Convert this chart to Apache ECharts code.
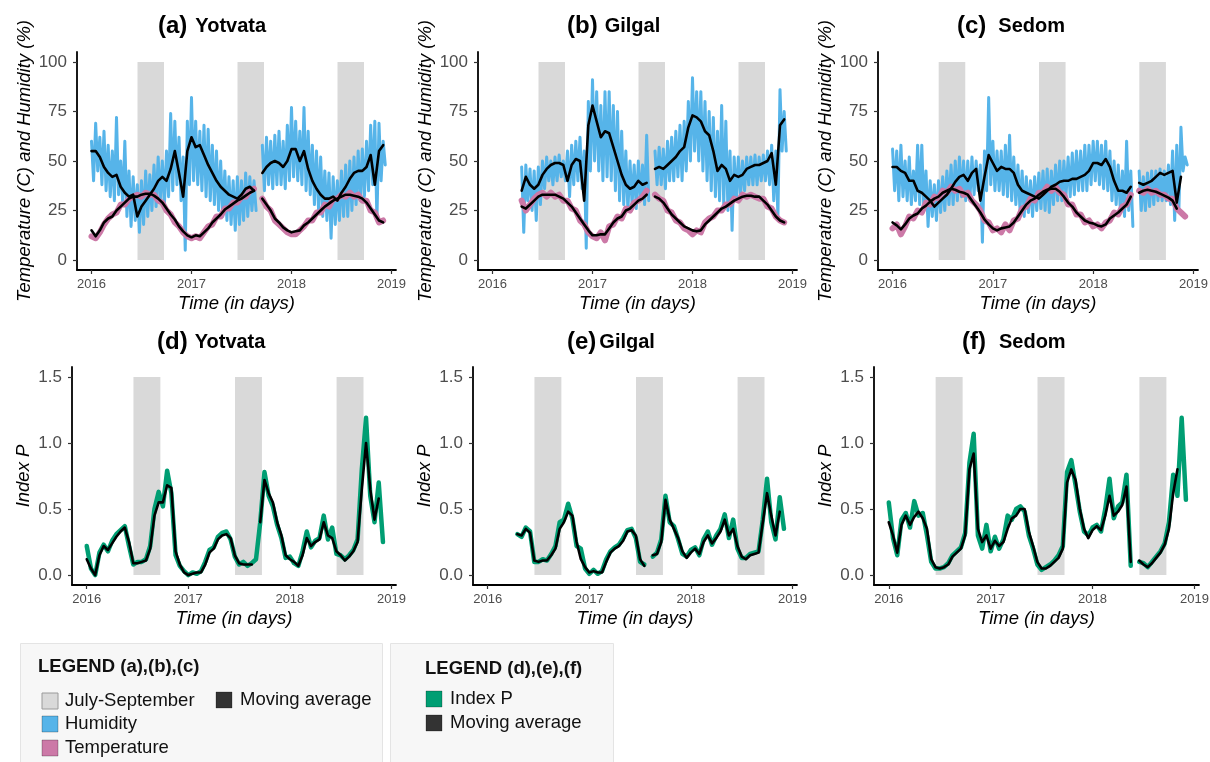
<!DOCTYPE html>
<html><head><meta charset="utf-8">
<script src="https://cdn.jsdelivr.net/npm/echarts@6/dist/echarts.min.js"></script>
<style>html,body{margin:0;padding:0;background:#fff}#c{width:1210px;height:762px}</style>
</head><body><div id="c"></div>
<script>
// ---------- axis / time data ----------
const yearTicks = [2016, 2017, 2018, 2019];
const tempHumTicks = [0, 25, 50, 75, 100];
const indexTicks = [0, 0.5, 1.0, 1.5];
const X_MIN = 2015.855, X_MAX = 2019.045;
const T0 = 2016;              // first sample (decimal year)
const STEP = 1 / 24;          // half-month step for smooth series
const RAW_STEP = 1 / 48;      // step for noisy humidity series
const GILGAL_START = 2016 + 7 / 24;
const shadeStart = [2016.46, 2017.46, 2018.46];
const shadeEnd = [2016.725, 2017.725, 2018.725];

// ---------- (a) Yotvata ----------
const yotvataHumidity = [60,40, 69,45, 62,38, 65,35, 58,32, 55,30, 72,33, 50,28, 60,22, 45,17,
 42,20, 38,14, 40,18, 45,22, 43,25, 48,27, 52,30, 50,28, 55,32, 74,35,
 70,38, 62,30, 52,5, 70,38, 82,40, 70,38, 65,35, 68,32, 66,30, 58,28,
 55,25, 50,22, 45,20, 42,18, 40,15, 42,18, 40,20, 44,22, 42,25, 40,25,
 null,null, 58,35, 62,38, 60,36, 63,38, 65,38, 60,36, 68,40, 77,42, 70,40,
 65,38, 77,35, 65,33, 58,28, 55,25, 52,22, 45,20, 44,11, 42,18, 40,20,
 45,22, 48,22, 50,25, 52,28, 55,30, 56,32, 60,35, 68,38, 70,20, 69,40,
 60,48];
const yotvataHumidityMA = [55,55,52,47,44,42,43,37,34,32, 33,22,27,30,33,36,40,42,40,46,
 55,44,32,55,62,57,58,53,48,44, 40,37,35,33,32,31,33,36,37,35,
 null,44,47,49,50,49,47,50,56,56, 50,55,46,40,36,33,31,31,32,30,
 34,37,41,44,45,45,47,53,38,55, 58];
const yotvataTemperature = [12,11,14,18,21,23,24,28,28,31, 32,33,32,34,33,33,30,29,25,23,
 19,17,14,12,11,12,11,14,17,18, 22,22,26,26,29,29,32,32,35,36,
 null,31,27,25,20,18,16,14,13,13, 15,17,20,20,24,24,28,27,31,31,
 33,32,34,32,33,30,30,25,24,19, 20];
const yotvataTemperatureMA = [15,12,15,19,21,22,25,27,29,31, 32,32,33,33.5,33.5,32.5,31,29,26,23,
 20.5,17,14.5,12.5,11.5,12.5,12,14,16,19, 21,23,25.5,27,28.5,30,31,32.5,34,35,
 null,31,28,25,21,19,16.5,15,14,14.5, 15,17.5,19,21,23,25,27,28.5,30,31,
 32,33,33,32.5,32,31,29,26,23,20, 19];

// ---------- (b) Gilgal ----------
const gilgalHumidity = [47,14, 48,30, 46,25, 45,20, 47,28, 50,36, 52,40, 50,38, 52,40, 53,42,
 50,40, 55,32, 58,38, 60,40, 62,36, 55,6, 80,45, 91,50, 85,45, 78,40,
 85,42, 85,40, 78,35, 75,30, 65,28, 55,25, 50,28, 48,26, 50,30, 48,28,
 63,30, null,null, 55,38, 57,38, 56,36, 60,40, 62,40, 65,42, 68,40, 70,45,
 80,50, 92,55, 85,50, 85,45, 80,40, 75,35, 72,32, 65,30, 78,28, 70,25,
 55,15, 52,30, 52,32, 50,35, 52,38, 52,38, 53,38, 52,40, 53,40, 55,38,
 58,30, 55,22, 86,55, 75,55];
const gilgalHumidityMA = [35,42,38,36,38,43,46,48,49,49, 48,40,48,51,50,30,68,78,70,62,
 65,64,57,50,43,38,36,37,40,38, 39,null,46,47,46,48,50,52,55,57,
 67,73,72,70,65,63,55,45,48,46, 40,43,42,43,46,47,48,48,49,50,
 54,38,68,71];
const gilgalTemperature = [30,25,28,31,33,34,32,34,32,33, 30,30,26,25,20,18,14,12,11,14,
 10,17,18,22,21,26,25,29,30,32, 35,null,33,31,30,25,24,20,19,16,
 15,13,15,14,19,21,22,25,25,28, 28,31,30,33,32,33,32,31,31,27,
 26,22,20,19];
const gilgalTemperatureMA = [27,26,28,30,32,33,33,33,33,32, 31,29,27,24,21,18,15,12.5,12.5,13,
 13,16,19,21,22,25,26,28,30,31, 33,null,32,31,29,26,23,21,19,17,
 16,15,14.5,15,18,20,22,24,26,27, 28.5,30,31,32,32.5,32.5,32,32,30,28,
 25,22,20,19];

// ---------- (c) Sedom ----------
const sedomHumidity = [56,35, 55,30, 58,32, 50,30, 52,28, 45,30, 58,28, 58,25, 45,17, 40,22,
 38,20, 40,24, 42,25, 45,28, 48,28, 50,30, 52,32, 50,30, 50,30, 52,33,
 50,35, 48,9, 55,35, 82,38, 60,35, 55,35, 55,33, 58,32, 63,30, 52,28,
 48,25, 45,22, 42,24, 40,22, 42,25, 44,26, 45,25, 46,24, 45,28, 48,30,
 50,30, 50,32, 52,32, 54,33, 55,35, 55,35, 58,35, 58,38, 60,40, 60,38,
 58,36, 60,35, 55,30, 50,28, 48,25, 45,22, 60,25, 45,17, null,null, 45,25,
 42,25, 44,27, 45,28, 45,30, 46,30, 45,30, 48,28, 55,20, 58,25, 67,45,
 52,48];
const sedomHumidityMA = [47,47,45,44,40,40,35,34,32,30, 27,29,31,33,36,39.5,42,43,40,44,
 46,30,42,53,49,45,47,46,46,44, 38,35,34,33,32,31,33,35,37,38,
 39.5,40,40,41,41,42,43,45,49,49, 48,51,47,40,35,35,34,37,null,39,
 38,39,40,42,44,43,44,45,29,42, null];
const sedomTemperature = [16,18,13,17,22,21,25,24,29,28, 32,31,35,34,37,35,36,33,34,30,
 28,25,20,19,15,16,14,18,15,20, 21,26,27,31,30,34,34,37,35,37,
 34,33,28,28,23,23,19,20,17,18, 16,19,20,24,23,27,28,33,null,35,
 34,36,34,35,33,33,31,31,26,24, 22];
const sedomTemperatureMA = [19,17.5,15.5,18,21,22.5,23.5,26,27.5,29.5, 31,32,34,35,36,35.5,34.5,34,33,30,
 27,24,20.5,18,16,15,16,16.5,17,19, 22,25,28,30,31,33,34.5,35.5,36,36,
 34.5,32,29,27,24,22,20,19,18.5,17.5, 17,18,21,22.5,24,26,28,32,null,34,
 35,35.5,35,34.5,33.5,32.5,31.5,30,26,null, null];

// ---------- (d) Yotvata index P ----------
const yotvataIndexP = [0.22,0.05,0.00,0.17,0.23,0.18,0.26,0.31,0.34,0.37, 0.22,0.08,0.10,0.10,0.12,0.22,0.50,0.63,0.52,0.79,
 0.62,0.15,0.07,0.03,0.00,0.02,0.01,0.03,0.10,0.19, 0.21,0.29,0.32,0.33,0.27,0.14,0.08,0.10,0.07,0.09,
 0.12,0.40,0.78,0.60,0.52,0.38,0.28,0.13,0.14,0.09, 0.07,0.18,0.33,0.21,0.26,0.28,0.45,0.27,0.36,0.16,
 0.15,0.12,0.15,0.19,0.27,0.80,1.19,0.60,0.40,0.70, 0.25];
const yotvataIndexPMA = [0.12,0.05,0.00,0.15,0.22,0.19,0.24,0.29,0.33,0.36, 0.25,0.09,0.09,0.10,0.11,0.20,0.45,0.55,0.55,0.68,
 0.66,0.18,0.08,0.02,0.00,0.01,0.02,0.02,0.08,0.17, 0.20,0.27,0.30,0.31,0.28,0.15,0.09,0.08,0.08,0.08,
 null,0.40,0.72,0.62,0.55,0.40,0.30,0.15,0.12,0.10, 0.07,0.15,0.28,0.22,0.25,0.27,0.40,0.30,0.28,0.18,
 0.15,0.11,0.14,0.18,0.25,0.65,1.00,0.65,0.42,0.58, null];

// ---------- (e) Gilgal index P ----------
const gilgalIndexP = [0.31,0.29,0.36,0.33,0.10,0.10,0.12,0.11,0.16,0.22, 0.40,0.42,0.54,0.43,0.22,0.20,0.05,0.01,0.04,0.01,
 0.03,0.12,0.18,0.21,0.23,0.28,0.34,0.35,0.28,0.10, 0.08,null,0.14,0.17,0.27,0.60,0.40,0.37,0.27,0.16,
 0.14,0.19,0.21,0.15,0.27,0.33,0.23,0.30,0.35,0.46, 0.28,0.42,0.20,0.13,0.13,0.16,0.17,0.18,0.42,0.73,
 0.40,0.27,0.59,0.35];
const gilgalIndexPMA = [0.31,0.30,0.35,0.32,0.11,0.10,0.11,0.11,0.15,0.20, 0.35,0.40,0.48,0.45,0.25,0.12,0.06,0.02,0.03,0.02,
 0.02,0.10,0.17,0.20,0.22,0.26,0.33,0.34,0.30,0.12, 0.07,null,0.15,0.16,0.25,0.57,0.42,0.35,0.28,0.18,
 0.13,0.17,0.20,0.16,0.25,0.30,0.24,0.28,0.33,0.42, 0.30,0.35,0.22,0.14,0.12,0.15,0.16,0.17,0.40,0.62,
 0.45,0.30,0.48,null];

// ---------- (f) Sedom index P ----------
const sedomIndexP = [0.55,0.28,0.15,0.42,0.47,0.36,0.56,0.45,0.47,0.30, 0.10,0.05,0.05,0.06,0.09,0.15,0.18,0.21,0.32,0.85,
 1.07,0.30,0.20,0.38,0.18,0.29,0.20,0.27,0.45,0.42, 0.50,0.52,0.48,0.30,0.20,0.08,0.04,0.06,0.08,0.11,
 0.15,0.22,0.78,0.87,0.68,0.48,0.33,0.30,0.36,0.38, 0.33,0.50,0.73,0.43,0.52,0.55,0.76,0.07,null,0.10,
 0.09,0.06,0.10,0.14,0.18,0.24,0.40,0.76,0.60,1.19, 0.57];
const sedomIndexPMA = [0.40,0.30,0.17,0.38,0.45,0.38,0.44,0.48,0.43,0.35, 0.12,0.06,0.05,0.06,0.08,0.14,0.17,0.20,0.30,0.80,
 0.92,0.35,0.25,0.30,0.20,0.26,0.22,0.25,0.35,0.43, 0.45,0.50,0.50,0.33,0.22,0.10,0.05,0.05,0.07,0.10,
 0.13,0.20,0.70,0.80,0.72,0.50,0.35,0.28,0.34,0.37, 0.34,0.45,0.60,0.45,0.48,0.53,0.67,0.10,null,0.11,
 0.08,0.06,0.09,0.13,0.17,0.23,0.35,0.62,0.80,null, null];

// ---------- styling ----------
const FONT = 'Liberation Sans, Arial, Helvetica, sans-serif';
const C_HUM = '#56B4E9', C_TEMP = '#CC79A7', C_P = '#009E73', C_MA = '#000000', C_SHADE = '#D9D9D9';

const grids = [
  {left: 77, top: 52, width: 319, height: 218},
  {left: 478, top: 52, width: 319, height: 218},
  {left: 878, top: 52, width: 320, height: 218},
  {left: 72, top: 367, width: 324, height: 218},
  {left: 473, top: 367, width: 324, height: 218},
  {left: 874, top: 367, width: 325, height: 218}
];

function xy(start, step, vals) {
  return vals.map((v, i) => [start + i * step, v == null ? '-' : v]);
}

function xAxisFor(g) {
  return {
    type: 'value', gridIndex: g, min: X_MIN, max: X_MAX,
    name: 'Time (in days)', nameLocation: 'middle', nameGap: 24,
    nameTextStyle: {fontStyle: 'italic', fontSize: 18.5, color: '#000', fontFamily: FONT},
    axisLine: {show: true, onZero: false, lineStyle: {color: '#000', width: 1.8}},
    axisTick: {show: true, length: 4, customValues: yearTicks, lineStyle: {color: '#333', width: 1.2}},
    axisLabel: {show: true, customValues: yearTicks, fontSize: 13, color: '#4d4d4d', margin: 8, fontFamily: FONT,
      formatter: v => String(Math.round(v))},
    splitLine: {show: false}
  };
}
function yAxisFor(g, top) {
  const ticks = top ? tempHumTicks : indexTicks;
  return {
    type: 'value', gridIndex: g,
    min: top ? -5 : -0.075, max: top ? 105 : 1.575,
    name: top ? 'Temperature (C) and Humidity (%)' : 'Index P',
    nameLocation: 'middle', nameGap: top ? 42 : 39,
    nameTextStyle: {fontStyle: 'italic', fontSize: 18.5, color: '#000', fontFamily: FONT},
    axisLine: {show: true, onZero: false, lineStyle: {color: '#000', width: 1.8}},
    axisTick: {show: true, length: 4, customValues: ticks, lineStyle: {color: '#333', width: 1.2}},
    axisLabel: {show: true, customValues: ticks, fontSize: 17, color: '#4d4d4d', margin: 10, fontFamily: FONT,
      formatter: v => top ? String(Math.round(v)) : v.toFixed(1)},
    splitLine: {show: false}
  };
}
function shadeSeries(g, top) {
  return {
    type: 'line', xAxisIndex: g, yAxisIndex: g, data: [], silent: true, z: 1,
    markArea: {
      silent: true, itemStyle: {color: C_SHADE}, label: {show: false},
      data: shadeStart.map((s, i) => [{xAxis: s, yAxis: 0}, {xAxis: shadeEnd[i], yAxis: top ? 100 : 1.5}])
    }
  };
}
function lineSeries(g, data, color, width, z) {
  return {
    type: 'line', xAxisIndex: g, yAxisIndex: g, data, showSymbol: false, symbol: 'none',
    connectNulls: false, silent: true, z,
    lineStyle: {color, width, join: 'round', cap: 'round'}, itemStyle: {color}
  };
}

const series = [];
const topSets = [
  [T0, yotvataHumidity, yotvataHumidityMA, yotvataTemperature, yotvataTemperatureMA],
  [GILGAL_START, gilgalHumidity, gilgalHumidityMA, gilgalTemperature, gilgalTemperatureMA],
  [T0, sedomHumidity, sedomHumidityMA, sedomTemperature, sedomTemperatureMA]
];
topSets.forEach((s, g) => {
  const [start, hum, humMA, temp, tempMA] = s;
  series.push(shadeSeries(g, true));
  series.push(lineSeries(g, xy(start, RAW_STEP, hum), C_HUM, 3, 2));
  series.push(lineSeries(g, xy(start, STEP, temp), C_TEMP, 6, 3));
  series.push(lineSeries(g, xy(start, STEP, humMA), C_MA, 2.6, 4));
  series.push(lineSeries(g, xy(start, STEP, tempMA), C_MA, 2.6, 4));
});
const bottomSets = [
  [T0, yotvataIndexP, yotvataIndexPMA],
  [GILGAL_START, gilgalIndexP, gilgalIndexPMA],
  [T0, sedomIndexP, sedomIndexPMA]
];
bottomSets.forEach((s, i) => {
  const g = i + 3;
  const [start, p, pMA] = s;
  series.push(shadeSeries(g, false));
  series.push(lineSeries(g, xy(start, STEP, p), C_P, 4.5, 2));
  series.push(lineSeries(g, xy(start, STEP, pMA), C_MA, 2.6, 4));
});

const panelTitles = [
  ['(a)', 'Yotvata', 158, 14, 8], ['(b)', 'Gilgal', 567, 14, 7], ['(c)', 'Sedom', 957, 14, 12],
  ['(d)', 'Yotvata', 157, 330, 7], ['(e)', 'Gilgal', 567, 330, 3], ['(f)', 'Sedom', 962, 330, 13]
];
const titles = panelTitles.map(t => ({
  text: '{p|' + t[0] + '}{n|' + t[1] + '}', left: t[2], top: t[3], padding: 0,
  textStyle: {rich: {
    p: {fontSize: 24, fontWeight: 'bold', color: '#000', fontFamily: FONT},
    n: {fontSize: 20, fontWeight: 'bold', color: '#000', fontFamily: FONT, padding: [0, 0, 0, t[4]]}
  }}
}));

function keyRect(x, y, fill, stroke) {
  return {type: 'rect', shape: {x, y, width: 16, height: 16}, style: {fill, stroke: stroke || 'rgba(0,0,0,0.25)', lineWidth: 1}, silent: true};
}
function txt(x, y, text, bold, size) {
  return {type: 'text', x, y, silent: true,
    style: {text, fill: '#111', font: (bold ? 'bold ' : '') + size + 'px ' + FONT, verticalAlign: 'middle', align: 'left'}};
}
const legendElements = [
  {type: 'rect', shape: {x: 20.5, y: 643.5, width: 362, height: 130}, style: {fill: '#f7f7f7', stroke: '#e4e4e4', lineWidth: 1}, silent: true},
  {type: 'rect', shape: {x: 390.5, y: 643.5, width: 223, height: 130}, style: {fill: '#f7f7f7', stroke: '#e4e4e4', lineWidth: 1}, silent: true},
  txt(38, 667, 'LEGEND (a),(b),(c)', true, 18.5),
  keyRect(42, 693, C_SHADE, '#9a9a9a'), txt(65, 701, 'July-September', false, 18.5),
  keyRect(42, 716, C_HUM), txt(65, 724, 'Humidity', false, 18.5),
  keyRect(42, 740, C_TEMP), txt(65, 748, 'Temperature', false, 18.5),
  keyRect(216, 692, '#333333'), txt(240, 700, 'Moving average', false, 18.5),
  txt(425, 669, 'LEGEND (d),(e),(f)', true, 18.5),
  keyRect(426, 691, C_P), txt(450, 699, 'Index P', false, 18.5),
  keyRect(426, 715, '#333333'), txt(450, 723, 'Moving average', false, 18.5)
];

const chart = echarts.init(document.getElementById('c'), null, {renderer: 'canvas', width: 1210, height: 762});
chart.setOption({
  animation: false,
  backgroundColor: '#ffffff',
  textStyle: {fontFamily: FONT},
  title: titles,
  grid: grids.map(g => Object.assign({containLabel: false, outerBoundsMode: 'none'}, g)),
  xAxis: grids.map((g, i) => xAxisFor(i)),
  yAxis: grids.map((g, i) => yAxisFor(i, i < 3)),
  series,
  graphic: {elements: legendElements}
});
</script>
</body></html>
